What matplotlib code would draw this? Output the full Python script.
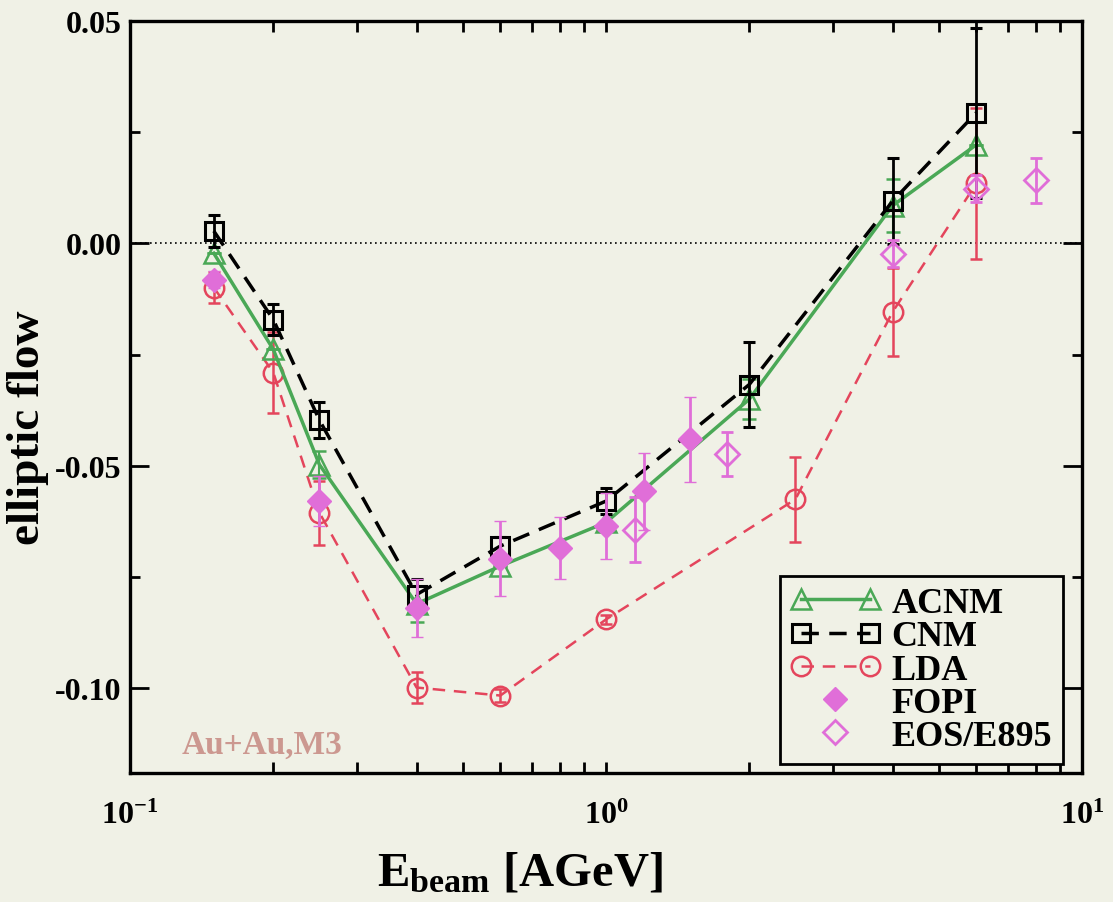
import matplotlib
matplotlib.use("Agg")
import matplotlib.pyplot as plt
from matplotlib.lines import Line2D
from matplotlib.legend_handler import HandlerLine2D
from matplotlib.ticker import FormatStrFormatter, MultipleLocator

# elliptic flow vs beam energy, Au+Au
acnm_x = [0.15, 0.2, 0.25, 0.4, 0.6, 1.0, 2.0, 4.0, 6.0]
acnm_y = [-0.0022, -0.0238, -0.0497, -0.0810, -0.0725, -0.0627, -0.0350, 0.0085, 0.0222]
acnm_e = [0.0, 0.0, 0.0030, 0.0040, 0.0, 0.0, 0.0045, 0.0060, 0.0]

cnm_x = [0.15, 0.2, 0.25, 0.4, 0.6, 1.0, 2.0, 4.0, 6.0]
cnm_y = [0.0028, -0.0171, -0.0397, -0.0789, -0.0680, -0.0579, -0.0317, 0.0095, 0.0294]
cnm_e = [0.0035, 0.0035, 0.0040, 0.0034, 0.0020, 0.0030, 0.0095, 0.0097, 0.0191]

lda_x = [0.15, 0.2, 0.25, 0.4, 0.6, 1.0, 2.5, 4.0, 6.0]
lda_y = [-0.0099, -0.0290, -0.0605, -0.0998, -0.1016, -0.0845, -0.0575, -0.0154, 0.0135]
lda_e = [0.0035, 0.0090, 0.0072, 0.0034, 0.0015, 0.0010, 0.0095, 0.0099, 0.0170]

fopi_x = [0.15, 0.25, 0.4, 0.6, 0.8, 1.0, 1.2, 1.5]
fopi_y = [-0.0081, -0.0579, -0.0820, -0.0708, -0.0684, -0.0635, -0.0557, -0.0440]
fopi_e = [0.0020, 0.0056, 0.0065, 0.0085, 0.0070, 0.0075, 0.0086, 0.0095]

eos_x = [1.15, 1.8, 4.0, 6.0, 8.0]
eos_y = [-0.0643, -0.0473, -0.0023, 0.0123, 0.0142]
eos_e = [0.0073, 0.0050, 0.0030, 0.0030, 0.0050]

green = "#4aa856"
red = "#e4455c"
orchid = "#e06ed8"
bg = "#f0f1e6"

plt.rcParams["font.family"] = ["Liberation Serif", "DejaVu Serif"]
plt.rcParams["font.weight"] = "bold"
plt.rcParams["mathtext.fontset"] = "custom"
plt.rcParams["mathtext.rm"] = "Liberation Serif:bold"
plt.rcParams["mathtext.it"] = "Liberation Serif:bold"
plt.rcParams["mathtext.bf"] = "Liberation Serif:bold"
plt.rcParams["mathtext.default"] = "rm"
plt.rcParams["axes.unicode_minus"] = False

fig = plt.figure(figsize=(11.13, 9.03), dpi=100, facecolor=bg)
ax = fig.add_axes([0.1168, 0.1429, 0.8553, 0.8327], facecolor=bg)

ax.axhline(0.0, color="black", ls=(0, (1, 2)), lw=1.2, zorder=1)

ax.errorbar(lda_x, lda_y, yerr=lda_e, color=red, ls=(0, (5, 3.5)), lw=1.8,
            marker="o", ms=14, mfc="none", mew=1.8, capsize=4, elinewidth=1.8, zorder=2)
ax.errorbar(acnm_x, acnm_y, yerr=acnm_e, color=green, ls="-", lw=2.5,
            marker="^", ms=14, mfc="none", mew=1.8, capsize=5, elinewidth=1.5, zorder=3)
ax.errorbar(cnm_x, cnm_y, yerr=cnm_e, color="black", ls=(0, (5, 3)), lw=2.5,
            marker="s", ms=13, mfc="none", mew=2.2, capsize=4, elinewidth=2.0, zorder=4)
ax.errorbar(fopi_x, fopi_y, yerr=fopi_e, color=orchid, ls="none",
            marker="D", ms=12.5, mew=1.0, capsize=4, elinewidth=2.0, zorder=5)
ax.errorbar(eos_x, eos_y, yerr=eos_e, color=orchid, ls="none",
            marker="D", ms=12.5, mfc="none", mew=2.0, capsize=4, elinewidth=2.0, zorder=5)

ax.set_xscale("log")
ax.set_xlim(0.1, 10)
ax.set_ylim(-0.119, 0.05)
ax.yaxis.set_major_locator(MultipleLocator(0.05))
ax.yaxis.set_minor_locator(MultipleLocator(0.025))
ax.yaxis.set_major_formatter(FormatStrFormatter("%.2f"))

for s in ax.spines.values():
    s.set_linewidth(2.4)
ax.tick_params(which="both", direction="in", top=True, right=True, width=2.0, labelsize=23)
ax.tick_params(axis="y", which="major", length=14)
ax.tick_params(axis="y", which="minor", length=7)
ax.tick_params(axis="x", which="both", length=8)
ax.tick_params(axis="x", pad=20)
ax.tick_params(axis="y", pad=6)

ax.set_ylabel("elliptic flow", fontsize=34, fontweight="bold")
ax.yaxis.set_label_coords(-0.085, 0.46)
ax.set_xlabel(r"E$_{\rm beam}$ [AGeV]", fontsize=35, fontweight="bold")
ax.xaxis.set_label_coords(0.41, -0.104)

ax.text(0.189, -0.1126, "Au+Au,M3", color="#cc9890", fontsize=24,
        fontweight="bold", ha="center", va="center")

h_acnm = Line2D([], [], color=green, ls="-", lw=2.5, marker="^", ms=14, mfc="none", mew=1.8)
h_cnm = Line2D([], [], color="black", ls=(0, (5, 3)), lw=2.5, marker="s", ms=13, mfc="none", mew=2.2)
h_lda = Line2D([], [], color=red, ls=(0, (5, 3.5)), lw=1.8, marker="o", ms=14, mfc="none", mew=1.8)
h_fopi = Line2D([], [], color=orchid, ls="none", marker="D", ms=12.5)
h_eos = Line2D([], [], color=orchid, ls="none", marker="D", ms=12.5, mfc="none", mew=2.0)

leg = ax.legend([h_acnm, h_cnm, h_lda, h_fopi, h_eos],
                ["ACNM", "CNM", "LDA", "FOPI", "EOS/E895"],
                loc="lower right", bbox_to_anchor=(0.98, 0.012), borderaxespad=0,
                numpoints=2,
                handler_map={h_fopi: HandlerLine2D(numpoints=1), h_eos: HandlerLine2D(numpoints=1)},
                prop={"family": "Liberation Serif", "weight": "bold", "size": 26},
                handlelength=2.5, handletextpad=0.3, labelspacing=0.0,
                borderpad=0.3, fancybox=False, framealpha=1, facecolor=bg, edgecolor="black")
leg.get_frame().set_linewidth(2.0)

fig.savefig("out.png", dpi=100, facecolor=bg)
